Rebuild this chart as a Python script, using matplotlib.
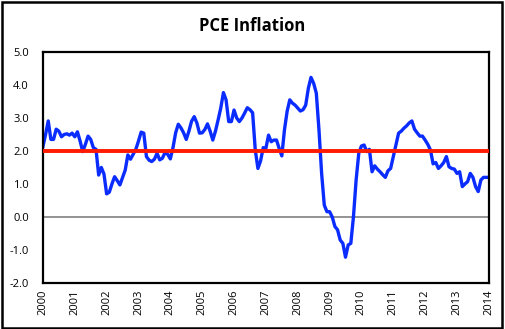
import matplotlib.pyplot as plt
from matplotlib.patches import Rectangle

# PCE inflation, monthly, Jan 2000 .. Jan 2014
pce_2000 = [2.13, 2.50, 2.91, 2.35, 2.35, 2.66, 2.60, 2.43, 2.50, 2.52, 2.48, 2.54]
pce_2001 = [2.43, 2.58, 2.30, 1.98, 2.20, 2.45, 2.35, 2.10, 2.05, 1.27, 1.50, 1.30]
pce_2002 = [0.70, 0.75, 1.00, 1.22, 1.10, 0.97, 1.20, 1.42, 1.88, 1.75, 1.90, 2.05]
pce_2003 = [2.30, 2.57, 2.54, 1.83, 1.72, 1.68, 1.75, 1.93, 1.73, 1.78, 1.95, 1.90]
pce_2004 = [1.76, 2.10, 2.55, 2.81, 2.70, 2.55, 2.35, 2.60, 2.90, 3.04, 2.85, 2.54]
pce_2005 = [2.55, 2.65, 2.82, 2.60, 2.33, 2.60, 2.94, 3.30, 3.77, 3.55, 2.89, 2.89]
pce_2006 = [3.24, 3.00, 2.89, 3.00, 3.15, 3.31, 3.25, 3.16, 2.03, 1.47, 1.70, 2.10]
pce_2007 = [2.08, 2.48, 2.28, 2.33, 2.33, 2.08, 1.85, 2.64, 3.20, 3.55, 3.45, 3.39]
pce_2008 = [3.30, 3.21, 3.25, 3.39, 3.90, 4.23, 4.05, 3.75, 2.64, 1.32, 0.36, 0.16]
pce_2009 = [0.16, 0.00, -0.29, -0.39, -0.70, -0.80, -1.22, -0.85, -0.80, 0.01, 1.12, 1.93]
pce_2010 = [2.15, 2.18, 1.98, 2.05, 1.37, 1.55, 1.45, 1.37, 1.28, 1.20, 1.40, 1.47]
pce_2011 = [1.83, 2.20, 2.54, 2.60, 2.69, 2.76, 2.85, 2.91, 2.66, 2.55, 2.45, 2.45]
pce_2012 = [2.33, 2.20, 2.03, 1.61, 1.65, 1.47, 1.55, 1.65, 1.83, 1.52, 1.47, 1.45]
pce_2013 = [1.32, 1.37, 0.92, 1.00, 1.07, 1.32, 1.20, 0.92, 0.77, 1.12, 1.20, 1.20]
pce_2014 = [1.20]

pce = (pce_2000 + pce_2001 + pce_2002 + pce_2003 + pce_2004 + pce_2005 + pce_2006
       + pce_2007 + pce_2008 + pce_2009 + pce_2010 + pce_2011 + pce_2012 + pce_2013
       + pce_2014)
months = [2000 + i / 12 for i in range(len(pce))]

target = 2.0
years = list(range(2000, 2015))
yticks = [-2.0, -1.0, 0.0, 1.0, 2.0, 3.0, 4.0, 5.0]

fig = plt.figure(figsize=(5.05, 3.29), dpi=100)
ax = fig.add_axes([0.085, 0.140, 0.883, 0.702])

ax.axhline(0, color='#808080', lw=1.2, zorder=1)
ax.plot(months, pce, color='#0a2cff', lw=2.4, zorder=2, solid_joinstyle='round')
ax.axhline(target, color='#ff1a00', lw=2.8, zorder=3)

ax.set_xlim(2000, 2014)
ax.set_ylim(-2, 5)
ax.set_xticks(years)
ax.set_xticklabels([str(y) for y in years], rotation=90, fontsize=8,
                   family='Open Sans')
ax.set_yticks(yticks)
ax.set_yticklabels(['%.1f' % v for v in yticks], fontsize=8, family='Open Sans')
ax.tick_params(axis='both', length=0)
ax.tick_params(axis='y', pad=10)
ax.tick_params(axis='x', pad=5)
for s in ax.spines.values():
    s.set_linewidth(1.6)
    s.set_color('black')

fig.text(0.5, 0.922, 'PCE Inflation', ha='center', va='center', fontsize=12,
         fontweight='bold', family='Open Sans')

# outer chart border
fig.patches.append(Rectangle((0.003, 0.004), 0.992, 0.99, transform=fig.transFigure,
                             fill=False, edgecolor='black', lw=1.8))

fig.savefig('out.png', dpi=100)
